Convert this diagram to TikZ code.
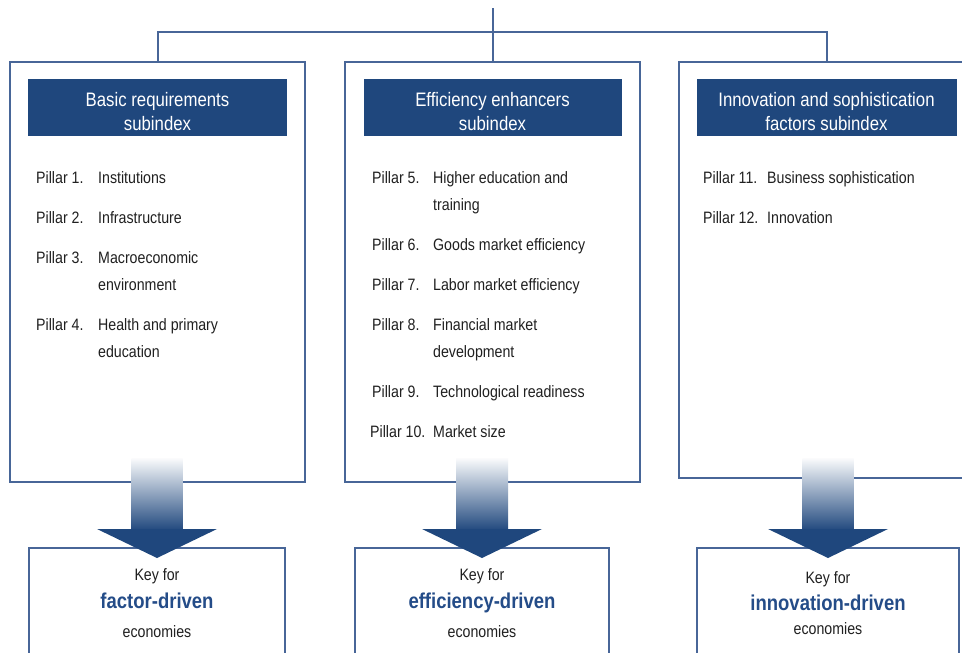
\documentclass[tikz,border=0pt]{standalone}
\usepackage{fontspec}
\setmainfont{Liberation Sans}[FakeStretch=0.86]
\usetikzlibrary{positioning}
\definecolor{headblue}{RGB}{31,71,125}
\definecolor{lineblue}{RGB}{72,102,152}
\definecolor{textgray}{RGB}{32,32,32}
\definecolor{keyblue}{RGB}{36,76,136}
\newcommand\pillarfont{\fontsize{16.5}{20}\selectfont}
\newcommand\headfont{\fontsize{19.5}{24.5}\selectfont}
\newcommand\keyfont{\fontsize{21.5}{24}\selectfont\bfseries}
\newcommand\headstrut{\rule{0pt}{22pt}}
\begin{document}
\begin{tikzpicture}[x=1pt,y=-1pt,
  pillarbox/.style={draw=lineblue,line width=2pt,minimum width=295pt},
  headbox/.style={fill=headblue,text=white,font=\headfont,align=center,minimum height=57pt},
  keybox/.style={draw=lineblue,line width=2pt,minimum height=120pt},
  txt/.style={anchor=base west,inner sep=0pt,text=textgray,font=\pillarfont},
  keytxt/.style={anchor=base,inner sep=0pt,text=textgray,font=\pillarfont}]
\useasboundingbox (0,0) rectangle (962,653);
\clip (0,0) rectangle (962,653);
\fill[white] (0,0) rectangle (962,653);
% subindex boxes
\node[pillarbox,minimum height=420pt] (box1) at (157.5,272) {};
\node[pillarbox,minimum height=420pt] (box2) at (492.5,272) {};
\node[pillarbox,minimum height=416pt] (box3) at (826.5,270) {};
\node[headbox,minimum width=259pt,below=18pt of box1.north] (head1) {\headstrut Basic requirements\\subindex};
\node[headbox,minimum width=258pt,below=18pt of box2.north] (head2) {\headstrut Efficiency enhancers\\subindex};
\node[headbox,minimum width=260pt,below=18pt of box3.north] (head3) {\headstrut Innovation and sophistication\\factors subindex};
% tree on top
\coordinate (root) at (492.5,8);
\draw[lineblue,line width=2pt] (root) -- (box2.north);
\draw[lineblue,line width=2pt] (box1.north) -- ++(0,-29) -| (box3.north);
% pillars
\node[txt] (p1) at (36,183) {Pillar 1.};
\node[txt] (d1) at (98,183) {Institutions};
\node[txt] (p2) at (36,223) {Pillar 2.};
\node[txt] (d2) at (98,223) {Infrastructure};
\node[txt] (p3) at (36,263) {Pillar 3.};
\node[txt] (d3) at (98,263) {Macroeconomic};
\node[txt] (d3b) at (98,290) {environment};
\node[txt] (p4) at (36,330) {Pillar 4.};
\node[txt] (d4) at (98,330) {Health and primary};
\node[txt] (d4b) at (98,357) {education};
\node[txt] (p5) at (372,183) {Pillar 5.};
\node[txt] (d5) at (433,183) {Higher education and};
\node[txt] (d5b) at (433,210) {training};
\node[txt] (p6) at (372,250) {Pillar 6.};
\node[txt] (d6) at (433,250) {Goods market efficiency};
\node[txt] (p7) at (372,290) {Pillar 7.};
\node[txt] (d7) at (433,290) {Labor market efficiency};
\node[txt] (p8) at (372,330) {Pillar 8.};
\node[txt] (d8) at (433,330) {Financial market};
\node[txt] (d8b) at (433,357) {development};
\node[txt] (p9) at (372,397) {Pillar 9.};
\node[txt] (d9) at (433,397) {Technological readiness};
\node[txt] (p10) at (370,437) {Pillar 10.};
\node[txt] (d10) at (433,437) {Market size};
\node[txt] (p11) at (703,183) {Pillar 11.};
\node[txt] (d11) at (767,183) {Business sophistication};
\node[txt] (p12) at (703,223) {Pillar 12.};
\node[txt] (d12) at (767,223) {Innovation};
% key boxes
\node[keybox,minimum width=256pt] (key1) at (157,608) {};
\node[keybox,minimum width=254pt] (key2) at (482,608) {};
\node[keybox,minimum width=262pt] (key3) at (828,608) {};
\node[keytxt] (k1a) at (157,580) {Key for};
\node[keytxt,text=keyblue,font=\keyfont] (k1b) at (157,608) {factor-driven};
\node[keytxt] (k1c) at (157,637) {economies};
\node[keytxt] (k2a) at (482,580) {Key for};
\node[keytxt,text=keyblue,font=\keyfont] (k2b) at (482,608) {efficiency-driven};
\node[keytxt] (k2c) at (482,637) {economies};
\node[keytxt] (k3a) at (828,583) {Key for};
\node[keytxt,text=keyblue,font=\keyfont] (k3b) at (828,610) {innovation-driven};
\node[keytxt] (k3c) at (828,634) {economies};
% arrows
\shade[top color=headblue!2,bottom color=headblue] ([shift={(-25.5,-89)}]key1.north) rectangle ([shift={(25.5,-16)}]key1.north);
\fill[headblue] ([shift={(-60,-18)}]key1.north) -- ([shift={(60,-18)}]key1.north) -- ([shift={(0,11)}]key1.north) -- cycle;
\shade[top color=headblue!2,bottom color=headblue] ([shift={(-26,-89)}]key2.north) rectangle ([shift={(26,-16)}]key2.north);
\fill[headblue] ([shift={(-60,-18)}]key2.north) -- ([shift={(60,-18)}]key2.north) -- ([shift={(0,11)}]key2.north) -- cycle;
\shade[top color=headblue!2,bottom color=headblue] ([shift={(-25.5,-89)}]key3.north) rectangle ([shift={(25.5,-16)}]key3.north);
\fill[headblue] ([shift={(-60,-18)}]key3.north) -- ([shift={(60,-18)}]key3.north) -- ([shift={(0,11)}]key3.north) -- cycle;
\end{tikzpicture}
\end{document}
